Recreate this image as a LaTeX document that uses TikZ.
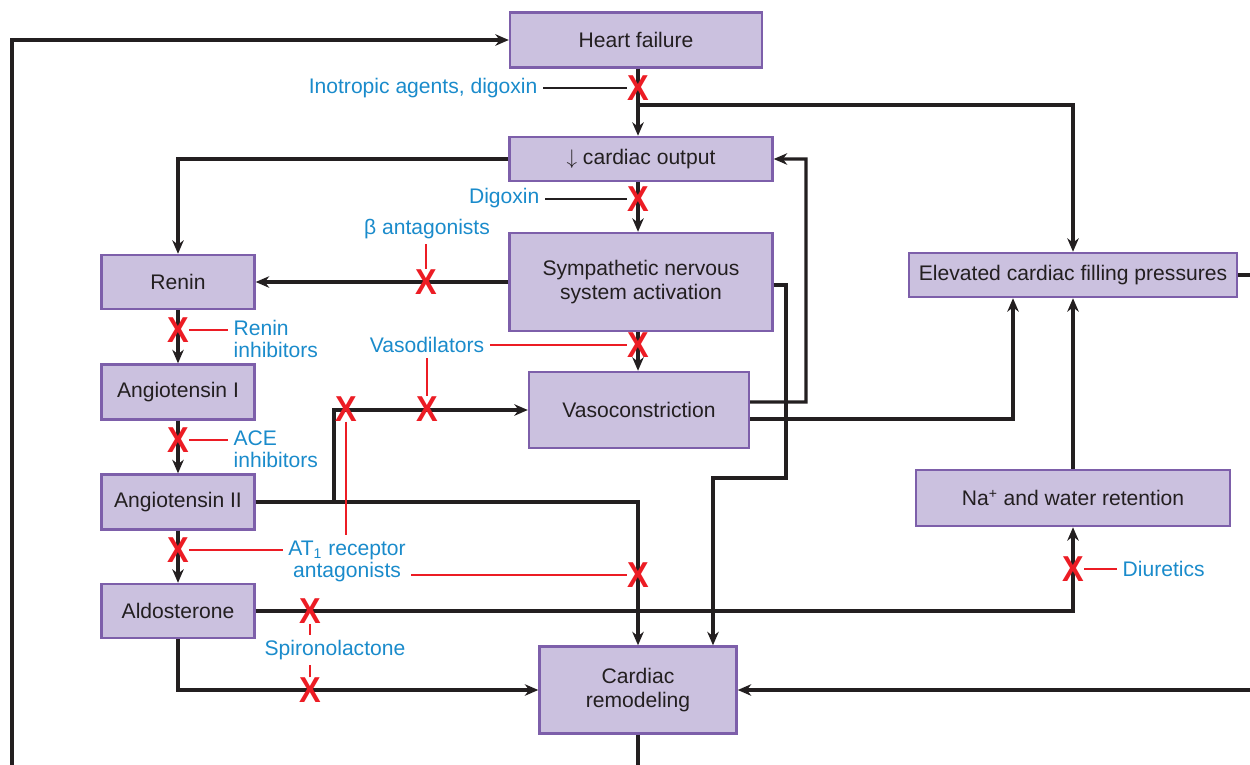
\documentclass[tikz,border=0pt]{standalone}
\usepackage{fontspec}
\setmainfont{Liberation Sans}
\usepackage{tikz}
\usetikzlibrary{arrows.meta}
\definecolor{boxfill}{HTML}{CBC1DF}
\definecolor{boxline}{HTML}{7D5FAA}
\definecolor{drugblue}{HTML}{1A8BCB}
\definecolor{blockred}{HTML}{EC1C24}
\definecolor{linegray}{HTML}{231F20}
\newcommand{\blockmark}{\scalebox{0.9}[1]{X}}

\begin{document}
\begin{tikzpicture}[x=0.02cm, y=-0.02cm,
    box/.style={rectangle, draw=boxline, fill=boxfill, line width=1.4pt,
                inner sep=2pt, align=center, text=linegray,
                font=\fontsize{12}{13.6}\selectfont},
    drug/.style={text=drugblue, inner sep=3pt,
                 font=\fontsize{12}{12.5}\selectfont},
    blockx/.style={text=blockred, inner sep=0pt,
                   font=\fontsize{20.5}{20.5}\selectfont\bfseries},
    arrow/.style={-{Stealth[length=2.7mm, width=2.3mm]}, line width=1.9pt,
                  draw=linegray},
    inh/.style={draw=blockred, line width=1pt},
    pointer/.style={draw=linegray, line width=0.6pt}]
  \path[use as bounding box, clip] (0,0) rectangle (1250,764);

  \node[box, minimum width=5.04cm, minimum height=1.1cm] (hf) at (636,40)
        {Heart failure};
  \node[box, minimum width=5.26cm, minimum height=0.88cm] (co) at (641,159)
        {$\downarrow$ cardiac output};
  \node[box, minimum width=5.26cm, minimum height=1.96cm] (sns) at (641,282)
        {Sympathetic nervous\\system activation};
  \node[box, minimum width=4.4cm, minimum height=1.52cm] (vaso) at (639,410)
        {Vasoconstriction};
  \node[box, minimum width=3.94cm, minimum height=1.74cm] (remod) at (638,690)
        {Cardiac\\remodeling};
  \node[box, minimum width=3.06cm, minimum height=1.08cm] (renin) at (178,282)
        {Renin};
  \node[box, minimum width=3.06cm, minimum height=1.1cm] (angi) at (178,392)
        {Angiotensin I};
  \node[box, minimum width=3.06cm, minimum height=1.1cm] (angii) at (178,502)
        {Angiotensin II};
  \node[box, minimum width=3.06cm, minimum height=1.08cm] (aldo) at (178,611)
        {Aldosterone};
  \node[box, minimum width=6.56cm, minimum height=0.88cm] (elev) at (1073,275)
        {Elevated cardiac filling pressures};
  \node[box, minimum width=6.28cm, minimum height=1.12cm] (na) at (1073,498)
        {Na\textsuperscript{+} and water retention};

  \node[drug, anchor=east] (lino) at (543,88) {Inotropic agents, digoxin};
  \node[drug, anchor=east] (ldig) at (545,198) {Digoxin};
  \node[drug] (lbeta) at (427,229) {β antagonists};
  \node[drug] (lvaso) at (427,345) {Vasodilators};
  \node[drug, anchor=west, align=left] (lren) at (228,339) {Renin\\inhibitors};
  \node[drug, anchor=west, align=left] (lace) at (228,449) {ACE\\inhibitors};
  \node[drug, align=center] (lat) at (347,561)
        {AT\textsubscript{1} receptor\\antagonists};
  \node[drug] (lspi) at (335,650) {Spironolactone};
  \node[drug, anchor=west] (ldiu) at (1117,569) {Diuretics};

  \coordinate (split) at (638,105);
  \coordinate (ajoin) at (334,502);
  \coordinate (sdrop) at (786,478);
  \coordinate (vup) at (806,402);
  \coordinate (bot) at (12,800);

  \draw[arrow] (hf.south -| remod) -- (co.north -| remod);
  \draw[arrow] (split) -| (elev.north);
  \draw[arrow] (co.south -| remod) -- (sns.north -| remod);
  \draw[arrow] (sns.south -| remod) -- (vaso.north -| remod);
  \draw[arrow] (co.west) -| (renin.north);
  \draw[arrow] (sns.west) -- (renin.east);
  \draw[arrow] (renin) -- (angi);
  \draw[arrow] (angi) -- (angii);
  \draw[arrow] (angii) -- (aldo);
  \draw[arrow] (angii.east) -- (ajoin) |- (vaso.west);
  \draw[arrow] (angii.east) -| (remod.north);
  \draw[arrow] ([yshift=-0.06cm]sns.east) -| (sdrop)
        -| ([xshift=1.5cm]remod.north);
  \draw[arrow] ([yshift=0.16cm]vaso.east) -- (vup) |- (co.east);
  \draw[arrow] ([yshift=-0.18cm]vaso.east) -| ([xshift=-1.2cm]elev.south);
  \draw[arrow] (na) -- (elev);
  \draw[arrow] (aldo.east) -| (na.south);
  \draw[arrow] (aldo.south) |- (remod.west);
  \draw[arrow] (elev.east) -- ++(40,0) |- (remod.east);
  \draw[arrow] (remod.south) |- (bot) |- (hf.west);

  \node[blockx] (xino) at (638,88) {\blockmark};
  \node[blockx] (xdig) at (638,199) {\blockmark};
  \node[blockx] (xbeta) at (426,282) {\blockmark};
  \node[blockx] (xvsns) at (638,345) {\blockmark};
  \node[blockx] (xvang) at (427,409) {\blockmark};
  \node[blockx] (xatv) at (346,409) {\blockmark};
  \node[blockx] (xatr) at (638,575) {\blockmark};
  \node[blockx] (xren) at (178,330) {\blockmark};
  \node[blockx] (xace) at (178,440) {\blockmark};
  \node[blockx] (xata) at (178,550) {\blockmark};
  \node[blockx] (xspna) at (310,611) {\blockmark};
  \node[blockx] (xspre) at (310,690) {\blockmark};
  \node[blockx] (xdiu) at (1073,569) {\blockmark};

  \draw[pointer] (lino.east |- xino) -- (xino);
  \draw[pointer] (ldig.east |- xdig) -- (xdig);
  \draw[inh] (lbeta.south -| xbeta) -- (xbeta);
  \draw[inh] (lvaso.east |- xvsns) -- (xvsns);
  \draw[inh] (lvaso.south -| xvang) -- (xvang);
  \draw[inh] (xren) -- (xren -| lren.west);
  \draw[inh] (xace) -- (xace -| lace.west);
  \draw[inh] (xata) -- (xata -| lat.west);
  \draw[inh] (xatv) -- (xatv |- lat.north);
  \draw[inh] (lat.east |- xatr) -- (xatr);
  \draw[inh] (xspna) -- (xspna |- lspi.north);
  \draw[inh] (xspre) -- (xspre |- lspi.south);
  \draw[inh] (xdiu) -- (xdiu -| ldiu.west);
\end{tikzpicture}
\end{document}
